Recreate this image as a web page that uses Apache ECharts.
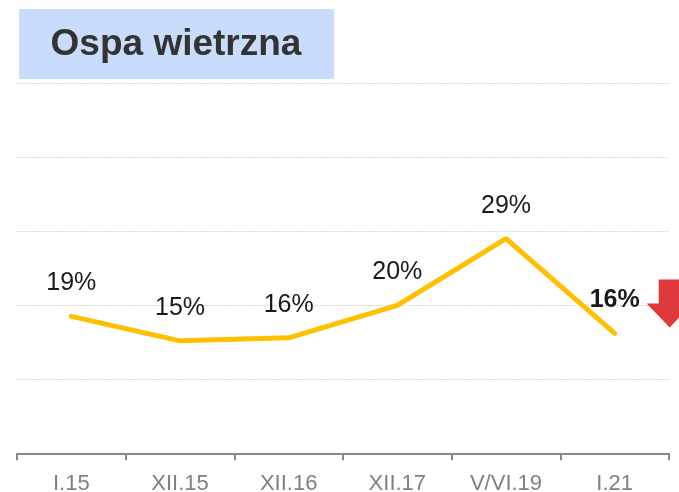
<!DOCTYPE html>
<html>
<head>
<meta charset="utf-8">
<script src="https://cdn.jsdelivr.net/npm/echarts@6/dist/echarts.min.js"></script>
<style>
    html, body { margin: 0; padding: 0; background: #fff; }
    #chart { width: 679px; height: 492px; }
</style>
</head>
<body>
<div id="chart"></div>
<script>
// Chart data
var categories = ['I.15', 'XII.15', 'XII.16', 'XII.17', 'V/VI.19', 'I.21'];
var values = [18.5, 15.2, 15.6, 20, 29, 16.2];
var valueLabels = ['19%', '15%', '16%', '20%', '29%', '16%'];

var chart_element = document.getElementById('chart');

if (chart_element) {

    // Initialize chart
    var line_chart = echarts.init(chart_element);

    // Build series data, last point gets a bold label
    var seriesData = values.map(function (v, i) {
        var item = { value: v };
        if (i === values.length - 1) {
            item.label = { fontWeight: 'bold' };
        }
        return item;
    });

    line_chart.setOption({

        animation: false,

        textStyle: {
            fontFamily: 'Arial, "Liberation Sans", sans-serif'
        },

        // Title box
        graphic: [{
            type: 'group',
            left: 19,
            top: 9,
            children: [{
                type: 'rect',
                shape: { x: 0, y: 0, width: 315, height: 70 },
                style: { fill: '#c9dcfc' }
            }, {
                type: 'text',
                x: 157,
                y: 36,
                style: {
                    text: 'Ospa wietrzna',
                    fill: '#333333',
                    font: 'bold 37px Arial, "Liberation Sans", sans-serif',
                    align: 'center',
                    verticalAlign: 'middle'
                }
            }]
        }],

        // Setup grid
        grid: {
            left: 17,
            right: 10,
            top: 83.3,
            bottom: 38.7,
            containLabel: false,
            outerBoundsMode: 'none'
        },

        // Horizontal axis
        xAxis: {
            type: 'category',
            boundaryGap: true,
            data: categories,
            axisLine: {
                lineStyle: { color: '#888888', width: 2 }
            },
            axisTick: {
                show: true,
                interval: 0,
                length: 7,
                lineStyle: { color: '#888888', width: 2 }
            },
            axisLabel: {
                interval: 0,
                margin: 20,
                color: '#808080',
                fontSize: 22
            }
        },

        // Vertical axis
        yAxis: {
            type: 'value',
            min: 0,
            max: 50,
            interval: 10,
            axisLine: { show: false },
            axisTick: { show: false },
            axisLabel: { show: false },
            splitLine: {
                lineStyle: {
                    color: '#d8d8d8',
                    width: 1,
                    type: [2, 1]
                }
            }
        },

        // Add series
        series: [{
            type: 'line',
            data: seriesData,
            symbol: 'circle',
            symbolSize: 1,
            showSymbol: true,
            itemStyle: { color: 'rgba(0,0,0,0)' },
            lineStyle: {
                color: '#ffc000',
                width: 5,
                cap: 'round',
                join: 'round'
            },
            label: {
                show: true,
                position: 'top',
                distance: 20,
                color: '#1a1a1a',
                fontSize: 25,
                formatter: function (params) {
                    return valueLabels[params.dataIndex];
                }
            },
            markPoint: {
                silent: true,
                symbol: 'path://M12,0 L34,0 L34,24 L46,24 L23,48 L0,24 L12,24 Z',
                symbolSize: [46, 48],
                symbolOffset: [55, -30],
                itemStyle: { color: '#e0393b' },
                label: { show: false },
                data: [{ coord: [values.length - 1, values[values.length - 1]] }]
            }
        }]
    });
}
</script>
</body>
</html>
